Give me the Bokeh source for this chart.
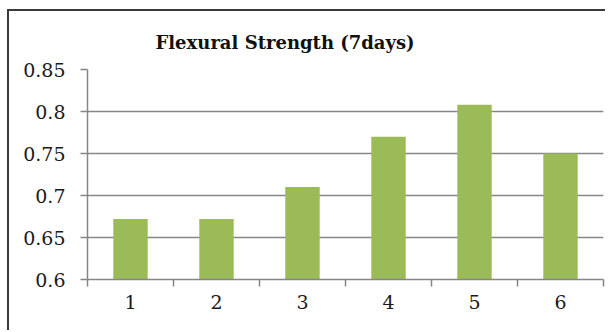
from bokeh.plotting import figure
from bokeh.models import FixedTicker
from bokeh.embed import file_html
from bokeh.resources import INLINE

categories = ["1", "2", "3", "4", "5", "6"]
strength = [0.672, 0.672, 0.710, 0.770, 0.808, 0.750]
y_ticks = [0.6, 0.65, 0.7, 0.75, 0.8, 0.85]
y_tick_labels = ["0.6", "0.65", "0.7", "0.75", "0.8", "0.85"]
title_text = "Flexural Strength (7days)"

xs = list(range(1, len(categories) + 1))
serif = "DejaVu Serif"

p = figure(width=598, height=321, x_range=(0.5, len(categories) + 0.5),
           y_range=(y_ticks[0], y_ticks[-1]), output_backend="svg",
           toolbar_location=None, min_border_left=78, min_border_right=4,
           min_border_top=58, min_border_bottom=53)
p.styles = {"border-left": "2px solid #3a3a3a", "border-top": "2px solid #3a3a3a"}
p.margin = (9, 0, 0, 7)

p.vbar(x=xs, top=strength, bottom=y_ticks[0], width=0.4,
       fill_color="#9BBB59", line_color=None)

grey = "#868686"
p.outline_line_color = None
p.xgrid.grid_line_color = None
p.ygrid.grid_line_color = grey
p.ygrid.grid_line_width = 1.5

p.yaxis.ticker = FixedTicker(ticks=y_ticks)
p.yaxis.major_label_overrides = {t: l for t, l in zip(y_ticks, y_tick_labels)}
p.xaxis.ticker = FixedTicker(ticks=xs, minor_ticks=[x - 0.5 for x in xs] + [xs[-1] + 0.5])
p.xaxis.major_label_overrides = {x: c for x, c in zip(xs, categories)}

for ax in (p.xaxis[0], p.yaxis[0]):
    ax.axis_line_color = grey
    ax.axis_line_width = 1.5
    ax.major_label_text_font = serif
    ax.major_label_text_font_size = "19px"
    ax.major_label_text_color = "#1a1a1a"
    ax.major_tick_in = 0
    ax.minor_tick_in = 0

p.yaxis.major_tick_out = 7
p.yaxis.major_tick_line_color = grey
p.yaxis.major_tick_line_width = 1.5
p.yaxis.minor_tick_line_color = None
p.yaxis.major_label_standoff = 15

p.xaxis.major_tick_out = 0
p.xaxis.major_tick_line_color = None
p.xaxis.minor_tick_out = 7
p.xaxis.minor_tick_line_color = grey
p.xaxis.minor_tick_line_width = 1.5
p.xaxis.major_label_standoff = 8

p.title.text = title_text
p.title.text_font = serif
p.title.text_font_size = "18px"
p.title.text_font_style = "bold"
p.title.text_color = "#111111"
p.title.align = "left"
p.title.offset = 68
p.title.standoff = 34

open("out.html", "w").write(file_html(p, INLINE))
